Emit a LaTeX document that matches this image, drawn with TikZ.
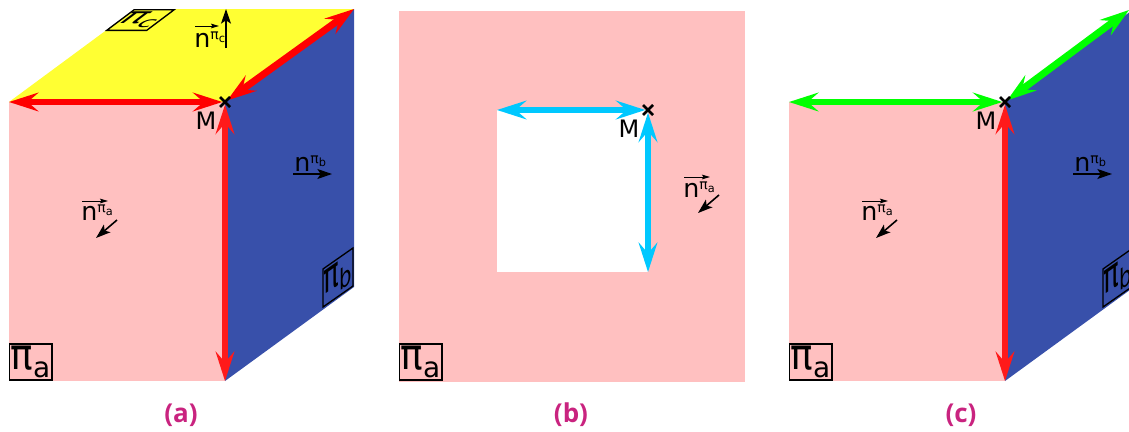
\documentclass[tikz,border=0pt]{standalone}
\usepackage{fontspec}
\setmainfont{DejaVu Sans}
\newfontfamily\capfont{Open Sans}
\usepackage{graphicx}
\usetikzlibrary{arrows.meta}
\definecolor{pa}{HTML}{FFC0C0}
\definecolor{pb}{HTML}{3850AA}
\definecolor{pc}{HTML}{FFFF33}
\definecolor{redA}{HTML}{FF0000}
\definecolor{redB}{HTML}{FF1A1A}
\definecolor{cyanA}{HTML}{00C8FF}
\definecolor{greenA}{HTML}{00FF00}
\definecolor{capc}{HTML}{C9237F}
\tikzset{
  x=0.75pt,y=-0.75pt,
  bigtip/.style={Stealth[length=22pt,width=14pt,inset=8pt]},
  dbl/.style={line width=5.2pt,{Stealth[length=22pt,width=14pt,inset=8pt]}-{Stealth[length=22pt,width=14pt,inset=8pt]}},
  dblthin/.style={line width=4.8pt,{Stealth[length=22pt,width=14pt,inset=8pt]}-{Stealth[length=22pt,width=14pt,inset=8pt]}},
  normalarrow/.style={line width=1.2pt,-{Stealth[length=11pt,width=7.5pt,inset=2.5pt]}},
  overarrow/.style={line width=.7pt,-{Stealth[length=6pt,width=3.5pt,inset=1pt]}},
  crossline/.style={line width=1.9pt,black},
  pointlabel/.style={inner sep=0pt,font=\fontsize{18}{18}\selectfont},
  nlabel/.style={inner sep=0pt,font=\fontsize{19}{19}\selectfont},
  tagbox/.style={draw=black,line width=1pt,inner sep=0pt,minimum width=32pt,minimum height=27pt,font=\fontsize{28}{28}\selectfont},
  caption/.style={inner sep=0pt,text=capc,font=\capfont\fontsize{19.5}{19.5}\selectfont\bfseries},
}
\newcommand{\nsup}[1]{n\raisebox{.28em}{\fontsize{10.5}{10.5}\selectfont π\raisebox{-.2em}{\fontsize{8.5}{8.5}\selectfont #1}}}
\newcommand{\tagtxt}[1]{\scalebox{1}[1.15]{π}\raisebox{-.2em}{\fontsize{21}{21}\selectfont #1}}
\begin{document}
\begin{tikzpicture}
\useasboundingbox (0,0) rectangle (1129,432);
\clip (0,0) rectangle (1129,432);
% ---------- panel (a)
\coordinate (aM) at (225,102);
\coordinate (aL) at (9,102);
\coordinate (aD) at (225,381);
\coordinate (aR) at (354,9);
\coordinate (aTL) at (135,9);
\coordinate (aBR) at (354,287);
\fill[pa] (aL) -- (aM) -- (aD) -- (9,381) -- cycle;
\fill[pc] (aL) -- (aM) -- (aR) -- (aTL) -- cycle;
\fill[pb] (aM) -- (aR) -- (aBR) -- (aD) -- cycle;
\draw[dbl,redB,shorten <=2pt] (aM) -- (aD);
\draw[dbl,redA,shorten >=2pt] (aL) -- (aM);
\draw[dbl,redA,shorten <=2pt] (aM) -- (aR);
\draw[crossline] (220,97) -- (230,107) (220,107) -- (230,97);
\node[pointlabel] (aMl) at (206,121) {M};
\node[nlabel,anchor=base west] (ana) at (81,220) {\nsup{a}};
\draw[overarrow] (82,201) -- (108,201);
\coordinate (anaS) at (117,220); \coordinate (anaE) at (96,238);
\draw[normalarrow] (anaS) -- (anaE);
\node[nlabel,anchor=base west] (anb) at (294,171) {\nsup{b}};
\coordinate (anbS) at (293,174); \coordinate (anbE) at (332,174);
\draw[normalarrow] (anbS) -- (anbE);
\node[nlabel,anchor=base west] (anc) at (194,47) {\nsup{c}};
\draw[overarrow] (195,26) -- (219,26);
\coordinate (ancS) at (226,48); \coordinate (ancE) at (226,9);
\draw[normalarrow] (ancS) -- (ancE);
\node[tagbox] (ata) at (30.5,362) {\tagtxt{a}};
\node[tagbox,transform shape,xslant=1.33,yscale=.5,minimum width=30pt,minimum height=31pt] (atc) at (140.5,20) {\tagtxt{c}};
\node[tagbox,transform shape,yslant=.7,xscale=.7,minimum height=28.5pt] (atb) at (338,277.5) {\tagtxt{b}};
\node[caption] (capa) at (181,415) {(a)};
% ---------- panel (b)
\coordinate (bM) at (648,110);
\coordinate (bL) at (497,110);
\coordinate (bD) at (648,272);
\fill[pa] (399,11) rectangle (745,382);
\fill[white] (bL) rectangle (bD);
\draw[dblthin,cyanA,shorten >=2pt] (bL) -- (bM);
\draw[dblthin,cyanA,shorten <=2pt] (bM) -- (bD);
\draw[crossline] (643,105) -- (653,115) (643,115) -- (653,105);
\node[pointlabel] (bMl) at (629,129) {M};
\node[nlabel,anchor=base west] (bna) at (683,197) {\nsup{a}};
\draw[overarrow] (684,177) -- (710,177);
\coordinate (bnaS) at (719,195); \coordinate (bnaE) at (698,213);
\draw[normalarrow] (bnaS) -- (bnaE);
\node[tagbox] (bta) at (420.5,362) {\tagtxt{a}};
\node[caption] (capb) at (571,415) {(b)};
% ---------- panel (c)
\coordinate (cM) at (1005,102);
\coordinate (cL) at (789,102);
\coordinate (cD) at (1005,381);
\coordinate (cR) at (1134,9);
\coordinate (cRt) at (1129,10);
\coordinate (cBR) at (1134,287);
\fill[pa] (cL) -- (cM) -- (cD) -- (789,381) -- cycle;
\fill[pb] (cM) -- (cR) -- (cBR) -- (cD) -- cycle;
\draw[dbl,redB,shorten <=2pt] (cM) -- (cD);
\draw[dbl,greenA,shorten >=2pt] (cL) -- (cM);
\draw[dbl,greenA,shorten <=2pt] (cM) -- (cRt);
\draw[crossline] (1000,97) -- (1010,107) (1000,107) -- (1010,97);
\node[pointlabel] (cMl) at (986,121) {M};
\node[nlabel,anchor=base west] (cna) at (861,220) {\nsup{a}};
\draw[overarrow] (862,201) -- (888,201);
\coordinate (cnaS) at (897,220); \coordinate (cnaE) at (876,238);
\draw[normalarrow] (cnaS) -- (cnaE);
\node[nlabel,anchor=base west] (cnb) at (1074,171) {\nsup{b}};
\coordinate (cnbS) at (1073,174); \coordinate (cnbE) at (1112,174);
\draw[normalarrow] (cnbS) -- (cnbE);
\node[tagbox] (cta) at (810.5,362) {\tagtxt{a}};
\node[tagbox,transform shape,yslant=.7,xscale=.7,minimum height=28.5pt] (ctb) at (1118,277.5) {\tagtxt{b}};
\node[caption] (capc) at (961,415) {(c)};
\end{tikzpicture}
\end{document}
